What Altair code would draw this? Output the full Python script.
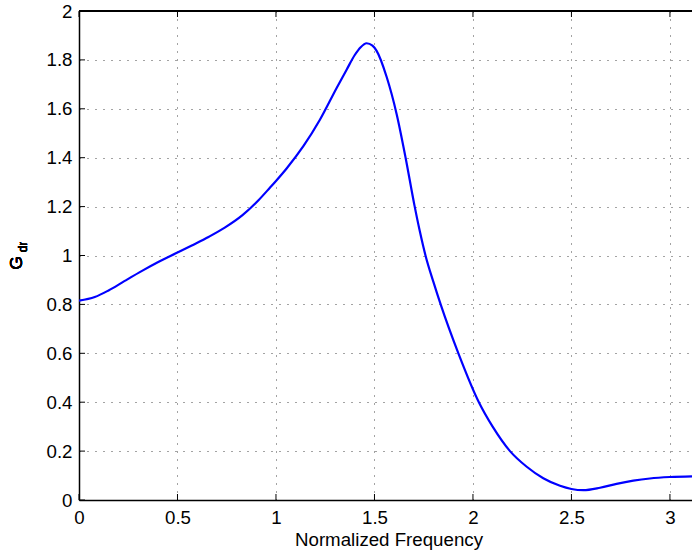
import altair as alt
import pandas as pd

freq = [0.0, 0.08, 0.15, 0.23, 0.32, 0.40, 0.50, 0.57, 0.66, 0.74, 0.83, 0.91,
        0.97, 1.0, 1.054, 1.139, 1.223, 1.308, 1.36, 1.40, 1.43, 1.46, 1.49,
        1.511, 1.562, 1.613, 1.658, 1.703, 1.73, 1.76, 1.80, 1.836, 1.926,
        2.03, 2.10, 2.188, 2.273, 2.357, 2.442, 2.50, 2.56, 2.645, 2.729,
        2.814, 2.898, 3.0, 3.112]
gdr = [0.815, 0.830, 0.857, 0.895, 0.937, 0.972, 1.012, 1.040, 1.077, 1.114,
       1.165, 1.225, 1.278, 1.305, 1.356, 1.447, 1.555, 1.685, 1.762, 1.820,
       1.852, 1.868, 1.858, 1.837, 1.730, 1.577, 1.400, 1.205, 1.100, 0.997,
       0.890, 0.800, 0.600, 0.400, 0.300, 0.200, 0.136, 0.089, 0.058, 0.045,
       0.040, 0.050, 0.066, 0.079, 0.088, 0.094, 0.097]

x_ticks = [0, 0.5, 1, 1.5, 2, 2.5, 3]
y_ticks = [0, 0.2, 0.4, 0.6, 0.8, 1.0, 1.2, 1.4, 1.6, 1.8, 2.0]

W, H = 613, 489
FONT = "Liberation Sans"

df = pd.DataFrame({"freq": freq, "gdr": gdr})
xt = pd.DataFrame({"t": x_ticks})
yt = pd.DataFrame({"t": y_ticks})

xs = alt.Scale(domain=[0, 3.112], nice=False, zero=False)
ys = alt.Scale(domain=[0, 2], nice=False)

line = alt.Chart(df).mark_line(
    color="#0000ff", strokeWidth=2.2, interpolate="monotone", clip=True
).encode(
    x=alt.X("freq:Q", scale=xs, axis=alt.Axis(
        values=x_ticks, title="Normalized Frequency", grid=True,
        gridDash=[1, 7], gridColor="#333", gridOpacity=0.9, gridWidth=1,
        ticks=False, labelPadding=8, labelFont=FONT, labelFontSize=18.7,
        labelColor="#000", labelFlush=False, domainColor="#000", domainWidth=1.5,
        titleFont=FONT, titleFontSize=18.7, titleFontWeight="normal",
        titleColor="#000", titleBaseline="alphabetic", titleY=45, titleX=309.5,
        labelExpr="datum.value")),
    y=alt.Y("gdr:Q", scale=ys, axis=alt.Axis(
        values=y_ticks, title=None, grid=True,
        gridDash=[1, 7], gridColor="#333", gridOpacity=0.9, gridWidth=1,
        ticks=False, labelPadding=7, labelFont=FONT, labelFontSize=18.7,
        labelColor="#000", labelFlush=False, domainColor="#000", domainWidth=1.5,
        labelExpr="datum.value")),
)

tick_len = 6
bottom_ticks = alt.Chart(xt).mark_rule(color="#000", strokeWidth=1).encode(
    x=alt.X("t:Q", scale=xs), y=alt.value(H), y2=alt.value(H - tick_len))
top_ticks = alt.Chart(xt).mark_rule(color="#000", strokeWidth=1).encode(
    x=alt.X("t:Q", scale=xs), y=alt.value(0), y2=alt.value(tick_len))
left_ticks = alt.Chart(yt).mark_rule(color="#000", strokeWidth=1).encode(
    y=alt.Y("t:Q", scale=ys), x=alt.value(0), x2=alt.value(tick_len))
top_border = alt.Chart(xt).mark_rule(color="#000", strokeWidth=1.5).encode(
    x=alt.value(0), x2=alt.value(W), y=alt.value(0))

ylab_g = alt.Chart(xt).mark_text(
    text="G", angle=270, font=FONT, fontSize=17, color="#000",
    align="center", baseline="middle").encode(
    x=alt.value(-62), y=alt.value(252))
ylab_dr = alt.Chart(xt).mark_text(
    text="dr", angle=270, font=FONT, fontSize=12, color="#000",
    align="center", baseline="middle").encode(
    x=alt.value(-56), y=alt.value(236))

chart = alt.layer(
    line, bottom_ticks, top_ticks, left_ticks, top_border, ylab_g, ylab_dr
).resolve_scale(x="shared", y="shared").properties(
    width=W, height=H,
    autosize=alt.AutoSizeParams(type="none"),
    padding={"left": 79, "top": 11, "right": 0, "bottom": 57},
).configure_view(stroke=None).configure(background="white")

chart.save("out.html", embed_options={"renderer": "svg", "actions": False})
